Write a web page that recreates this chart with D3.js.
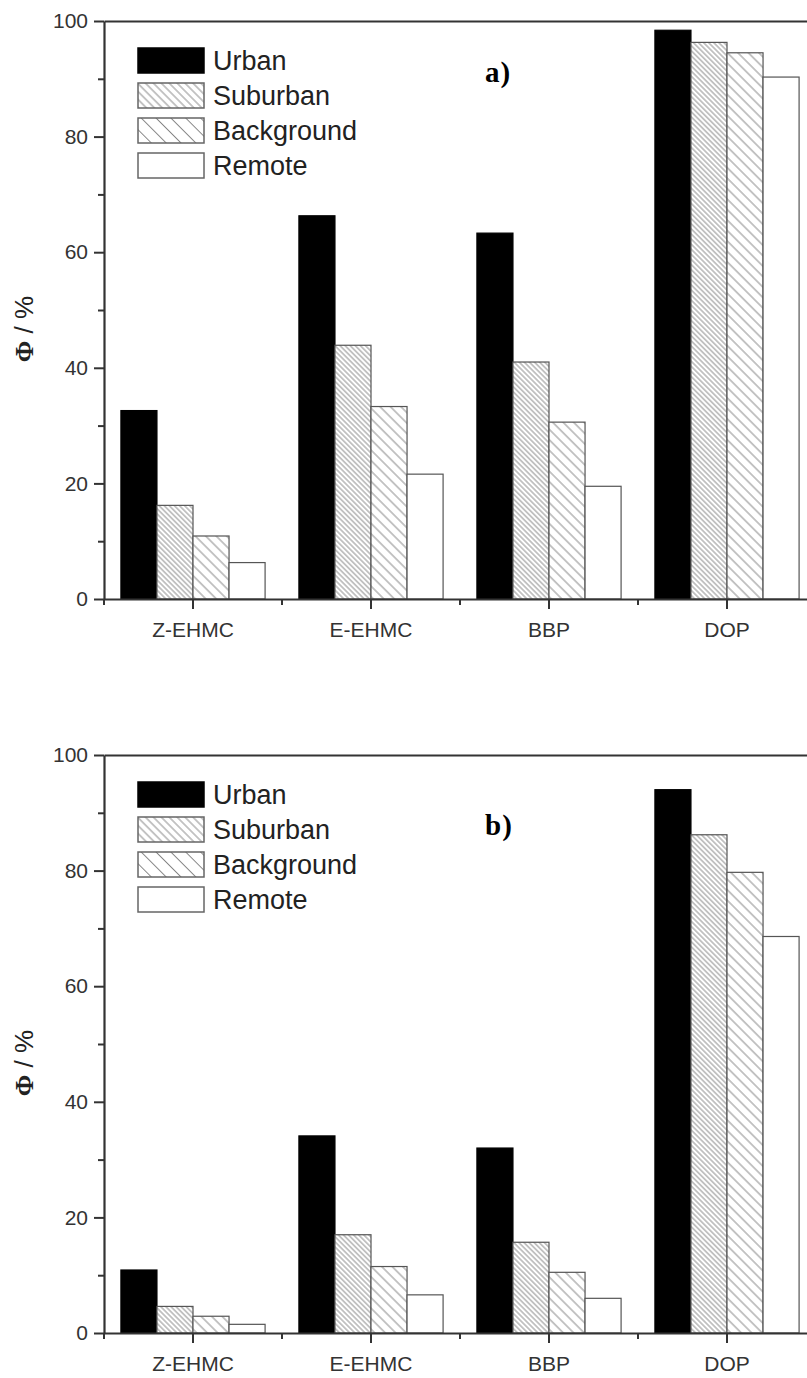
<!DOCTYPE html>
<html>
<head>
<meta charset="utf-8">
<script src="https://cdn.jsdelivr.net/npm/d3@7"></script>
<style>
  body { margin: 0; background: #fff; overflow: hidden; }
  svg { display: block; }
  .tick text { font-family: "Liberation Sans", Arial, sans-serif; fill: #333; }
</style>
</head>
<body>
<svg id="chart"></svg>
<script>
// Data
const categories = ["Z-EHMC", "E-EHMC", "BBP", "DOP"];
const series = ["Urban", "Suburban", "Background", "Remote"];

// panel a)
const urbanA = [32.6, 66.3, 63.3, 98.4];
const suburbanA = [16.2, 43.9, 41.0, 96.3];
const backgroundA = [10.9, 33.3, 30.6, 94.5];
const remoteA = [6.3, 21.6, 19.5, 90.3];

// panel b)
const urbanB = [10.9, 34.1, 32.0, 94.0];
const suburbanB = [4.6, 17.0, 15.7, 86.2];
const backgroundB = [2.9, 11.5, 10.5, 79.7];
const remoteB = [1.5, 6.6, 6.0, 68.6];

const yTicks = [0, 20, 40, 60, 80, 100];
const yMinor = [10, 30, 50, 70, 90];

const width = 807;
const height = 1378;
const left = 104;
const right = 816;
const plotH = 578;

let svg = d3.select("#chart").attr("width", width).attr("height", height);

// hatch patterns
let defs = svg.append("defs");
function hatch(id, gap, sw) {
  let p = defs.append("pattern")
    .attr("id", id)
    .attr("patternUnits", "userSpaceOnUse")
    .attr("width", 10)
    .attr("height", gap)
    .attr("patternTransform", "rotate(45)");
  p.append("rect").attr("width", 10).attr("height", gap).attr("fill", "#fff");
  p.append("line")
    .attr("x1", 0).attr("x2", 10)
    .attr("y1", gap / 2).attr("y2", gap / 2)
    .attr("stroke", "#6a6a6a")
    .attr("stroke-width", sw);
}
hatch("subH", 3.6, 0.8);
hatch("bgH", 7.4, 0.8);
hatch("subL", 5.6, 0.8);
hatch("bgL", 10.5, 0.8);

const fills = { Urban: "#000", Suburban: "url(#subH)", Background: "url(#bgH)", Remote: "#fff" };
const legendFills = { Urban: "#000", Suburban: "url(#subL)", Background: "url(#bgL)", Remote: "#fff" };

let x0 = d3.scaleBand().domain(categories).range([left, right]).padding(0);
let x1 = d3.scaleBand().domain(series)
  .range([x0.bandwidth() * 0.095, x0.bandwidth() * 0.905]).padding(0);

function drawPanel(top, values, tag, tagY) {
  let g = svg.append("g");
  let y = d3.scaleLinear().domain([0, 100]).range([top + plotH, top]);

  let rows = categories.map((c, i) => {
    let r = { cat: c };
    series.forEach((s, j) => { r[s] = values[j][i]; });
    return r;
  });

  // bars
  g.selectAll("g.grp")
    .data(rows)
    .enter()
    .append("g")
    .attr("class", "grp")
    .attr("transform", (d) => "translate(" + x0(d.cat) + ",0)")
    .selectAll("rect")
    .data((d) => series.map((s) => ({ key: s, value: d[s] })))
    .enter()
    .append("rect")
    .attr("x", (d) => x1(d.key))
    .attr("width", x1.bandwidth())
    .attr("y", (d) => y(d.value))
    .attr("height", (d) => y(0) - y(d.value))
    .attr("fill", (d) => fills[d.key])
    .attr("stroke", (d) => d.key === "Urban" ? "#000" : "#555")
    .attr("stroke-width", 1.2);

  // y axis
  let yAxis = g.append("g")
    .attr("transform", "translate(" + left + ",0)")
    .call(d3.axisLeft(y).tickValues(yTicks).tickSize(10).tickSizeOuter(0).tickPadding(6));
  yAxis.selectAll("text").style("font-size", "21px");
  g.append("g")
    .attr("transform", "translate(" + left + ",0)")
    .call(d3.axisLeft(y).tickValues(yMinor).tickSize(6).tickFormat(""))
    .select(".domain").remove();

  // x axis
  let xAxis = g.append("g")
    .attr("transform", "translate(0," + (top + plotH) + ")")
    .call(d3.axisBottom(x0).tickSize(10).tickSizeOuter(0).tickPadding(13));
  xAxis.selectAll("text").style("font-size", "21px");
  g.append("g")
    .selectAll("line")
    .data(categories)
    .enter()
    .append("line")
    .attr("x1", (d) => x0(d)).attr("x2", (d) => x0(d))
    .attr("y1", top + plotH).attr("y2", top + plotH + 6)
    .attr("stroke", "#333").attr("stroke-width", 2);

  // top frame
  g.append("g")
    .attr("transform", "translate(0," + top + ")")
    .call(d3.axisTop(x0).tickValues([]).tickSizeOuter(0));

  g.selectAll(".domain").attr("stroke", "#333").attr("stroke-width", 2.2);
  g.selectAll(".tick line").attr("stroke", "#333").attr("stroke-width", 2);

  // y label
  let lab = g.append("text")
    .attr("transform", "translate(33," + (top + plotH / 2 + 19) + ") rotate(-90)")
    .attr("text-anchor", "middle")
    .attr("fill", "#222")
    .style("font-size", "26px");
  lab.append("tspan")
    .style("font-family", "'Liberation Serif', 'Times New Roman', serif")
    .style("font-weight", "bold")
    .text("Φ");
  lab.append("tspan")
    .style("font-family", "'Liberation Sans', Arial, sans-serif")
    .text(" / %");

  // legend
  let leg = g.append("g").attr("transform", "translate(138," + (top + 27) + ")");
  series.forEach((s, i) => {
    leg.append("rect")
      .attr("x", 0).attr("y", i * 35)
      .attr("width", 66).attr("height", 25)
      .attr("fill", legendFills[s])
      .attr("stroke", s === "Urban" ? "#000" : "#666")
      .attr("stroke-width", 1.5);
    leg.append("text")
      .attr("x", 75).attr("y", i * 35 + 22)
      .attr("fill", "#222")
      .style("font-family", "'Liberation Sans', Arial, sans-serif")
      .style("font-size", "27px")
      .text(s);
  });

  // panel tag
  g.append("text")
    .attr("x", 485).attr("y", top + tagY)
    .attr("fill", "#000")
    .style("font-family", "'Liberation Serif', 'Times New Roman', serif")
    .style("font-weight", "bold")
    .style("font-size", "29px")
    .style("letter-spacing", "1px")
    .text(tag);
}

drawPanel(21, [urbanA, suburbanA, backgroundA, remoteA], "a)", 61);
drawPanel(755, [urbanB, suburbanB, backgroundB, remoteB], "b)", 80);
</script>
</body>
</html>
